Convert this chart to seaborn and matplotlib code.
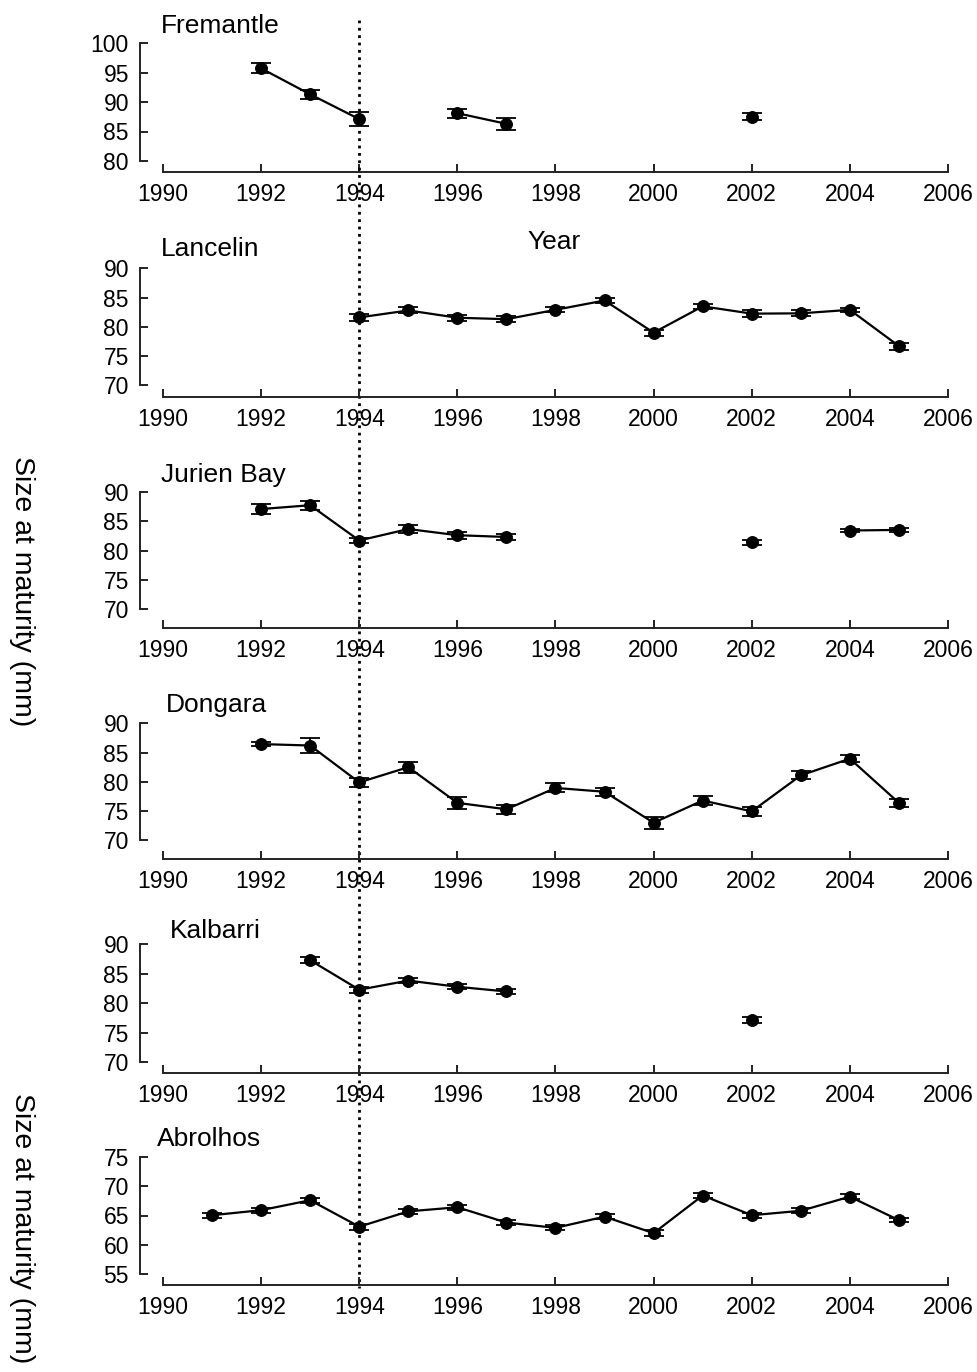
import numpy as np
import pandas as pd
import matplotlib
matplotlib.use("Agg")
import matplotlib.pyplot as plt
import matplotlib.transforms as mtransforms
import seaborn as sns

# ---- data: mean size at maturity (mm) and standard error per year ----
sites = ["Fremantle", "Lancelin", "Jurien Bay", "Dongara", "Kalbarri", "Abrolhos"]

fremantle_years = [1992, 1993, 1994, 1996, 1997, 2002]
fremantle_size = [95.7, 91.3, 87.1, 88.1, 86.3, 87.5]
fremantle_se = [0.85, 0.75, 1.2, 0.75, 1.0, 0.6]

lancelin_years = [1994, 1995, 1996, 1997, 1998, 1999, 2000, 2001, 2002, 2003, 2004, 2005]
lancelin_size = [81.6, 82.8, 81.55, 81.3, 82.9, 84.5, 79.0, 83.5, 82.25, 82.3, 82.9, 76.7]
lancelin_se = [0.6, 0.5, 0.5, 0.5, 0.4, 0.5, 0.5, 0.4, 0.6, 0.5, 0.3, 0.6]

jurien_years = [1992, 1993, 1994, 1995, 1996, 1997, 2002, 2004, 2005]
jurien_size = [87.05, 87.7, 81.7, 83.65, 82.6, 82.3, 81.4, 83.4, 83.5]
jurien_se = [0.8, 0.75, 0.5, 0.65, 0.6, 0.55, 0.45, 0.3, 0.3]

dongara_years = [1992, 1993, 1994, 1995, 1996, 1997, 1998, 1999, 2000, 2001, 2002, 2003, 2004, 2005]
dongara_size = [86.45, 86.2, 79.9, 82.5, 76.4, 75.3, 78.95, 78.3, 73.0, 76.8, 74.95, 81.1, 83.95, 76.4]
dongara_se = [0.4, 1.3, 0.8, 0.97, 1.0, 0.8, 0.77, 0.68, 1.05, 0.77, 0.74, 0.68, 0.55, 0.68]

kalbarri_years = [1993, 1994, 1995, 1996, 1997, 2002]
kalbarri_size = [87.3, 82.3, 83.85, 82.8, 82.0, 77.2]
kalbarri_se = [0.5, 0.5, 0.4, 0.45, 0.4, 0.5]

abrolhos_years = [1991, 1992, 1993, 1994, 1995, 1996, 1997, 1998, 1999, 2000, 2001, 2002, 2003, 2004, 2005]
abrolhos_size = [65.05, 65.9, 67.6, 63.1, 65.7, 66.4, 63.8, 62.9, 64.8, 62.0, 68.4, 65.05, 65.8, 68.2, 64.2]
abrolhos_se = [0.4, 0.4, 0.4, 0.5, 0.4, 0.4, 0.4, 0.4, 0.4, 0.45, 0.4, 0.45, 0.4, 0.4, 0.3]

year_ticks = [1990, 1992, 1994, 1996, 1998, 2000, 2002, 2004, 2006]
y_ticks = [
    [80, 85, 90, 95, 100],
    [70, 75, 80, 85, 90],
    [70, 75, 80, 85, 90],
    [70, 75, 80, 85, 90],
    [70, 75, 80, 85, 90],
    [55, 60, 65, 70, 75],
]
closure_year = 1994

series = [
    (fremantle_years, fremantle_size, fremantle_se),
    (lancelin_years, lancelin_size, lancelin_se),
    (jurien_years, jurien_size, jurien_se),
    (dongara_years, dongara_size, dongara_se),
    (kalbarri_years, kalbarri_size, kalbarri_se),
    (abrolhos_years, abrolhos_size, abrolhos_se),
]

# ---- layout (pixels on a 978 x 1372 canvas) ----
W, H, DPI = 978, 1372, 100
# (top tick px, bottom tick px, x-axis line px)
panel_px = [
    (43.0, 161.0, 172.0),
    (268.3, 385.3, 396.7),
    (491.7, 609.3, 627.7),
    (723.3, 840.3, 859.0),
    (944.3, 1062.3, 1072.7),
    (1156.7, 1274.3, 1284.7),
]
# title anchor (left px, baseline px)
title_px = [(161, 33), (161, 256.5), (161, 481.5), (165.5, 712), (170, 937.5), (157, 1146.5)]

x_left_px, x1990_px, x2006_px = 140.0, 163.0, 948.0
px_per_year = (x2006_px - x1990_px) / 16.0
xmin = 1990 - (x1990_px - x_left_px) / px_per_year
xmax = 2006 + (x1990_px - x_left_px) / px_per_year
x_right_px = x2006_px + (x1990_px - x_left_px)

sns.set_style("ticks")
plt.rcParams["font.family"] = ["Liberation Sans", "DejaVu Sans"]
plt.rcParams["text.color"] = "black"

fig = plt.figure(figsize=(W / DPI, H / DPI), dpi=DPI)
ink = "black"
axes = []

for i, (site, (yrs, size, se)) in enumerate(zip(sites, series)):
    top_px, bot_px, axis_px = panel_px[i]
    ticks = y_ticks[i]
    s = (bot_px - top_px) / (ticks[-1] - ticks[0])
    ymin = ticks[0] - (axis_px - bot_px) / s
    frame_top_px = top_px - 6
    ymax = ticks[-1] + 6 / s

    ax = fig.add_axes([
        x_left_px / W,
        1 - axis_px / H,
        (x_right_px - x_left_px) / W,
        (axis_px - frame_top_px) / H,
    ])
    axes.append(ax)

    df = pd.DataFrame({"year": yrs, "size": size, "se": se})
    # consecutive years form one connected run; gaps break the line
    df["run"] = (df["year"].diff() != 1).cumsum()

    ax.errorbar(df["year"], df["size"], yerr=df["se"], fmt="none",
                ecolor=ink, elinewidth=1.3, capsize=7, capthick=1.3,
                zorder=2, clip_on=False)
    sns.lineplot(data=df, x="year", y="size", units="run", estimator=None,
                 color=ink, linewidth=1.6, marker="o", markersize=8.5,
                 markeredgecolor=ink, markerfacecolor=ink, legend=False,
                 ax=ax, zorder=3, clip_on=False)

    ax.set_xlim(xmin, xmax)
    ax.set_ylim(ymin, ymax)
    ax.set_xticks(year_ticks)
    ax.set_yticks(ticks)
    ax.set_xlabel("")
    ax.set_ylabel("")
    for side in ("top", "right"):
        ax.spines[side].set_visible(False)
    ax.spines["left"].set_bounds(ticks[0], ticks[-1])
    ax.spines["bottom"].set_bounds(1990, 2006)
    for side in ("left", "bottom"):
        ax.spines[side].set_color("#222222")
        ax.spines[side].set_linewidth(1.4)
    ax.tick_params(axis="both", direction="in", length=6, width=1.4,
                   color="#222222", labelsize=16.5, labelcolor="black",
                   bottom=True, left=True, top=False, right=False)
    ax.tick_params(axis="x", pad=8)
    ax.tick_params(axis="y", pad=8)
    ax.patch.set_alpha(0)

    tx, ty = title_px[i]
    fig.text(tx / W, 1 - ty / H, site, ha="left", va="baseline", fontsize=19,
             color="black")

fig.text(527 / W, 1 - 249 / H, "Year", ha="left", va="baseline", fontsize=19,
         color="black")

# dotted reference line at 1994 running through all panels
blend = mtransforms.blended_transform_factory(axes[0].transData, fig.transFigure)
axes[0].plot([closure_year, closure_year], [1 - 20 / H, 1 - 1288 / H],
             transform=blend, clip_on=False, color=ink, linestyle=":",
             linewidth=2.0, zorder=5)

for cy in (591, 1228):
    fig.text(22 / W, 1 - cy / H, "Size at maturity (mm)", rotation=270,
             ha="center", va="center", fontsize=20.5, color="black")

fig.savefig("out.png", dpi=DPI)
